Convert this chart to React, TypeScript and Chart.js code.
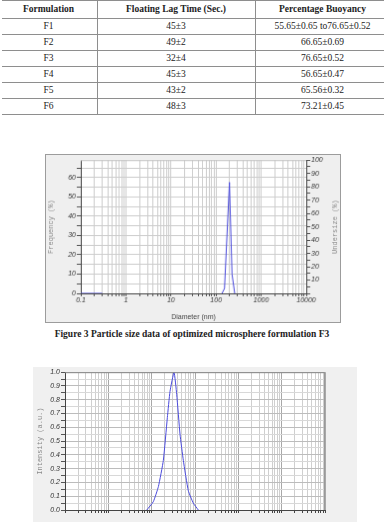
import React, { useEffect, useRef } from "react";
import { Chart, registerables } from "chart.js";

Chart.register(...registerables);

// ---------- Table data ----------
const tableHeaders = ["Formulation", "Floating Lag Time (Sec.)", "Percentage Buoyancy"];
const formulations = ["F1", "F2", "F3", "F4", "F5", "F6"];
const lagTimes = ["45±3", "49±2", "32±4", "45±3", "43±2", "48±3"];
const buoyancy = [
  "55.65±0.65 to76.65±0.52",
  "66.65±0.69",
  "76.65±0.52",
  "56.65±0.47",
  "65.56±0.32",
  "73.21±0.45",
];

// ---------- Figure 3: particle size ----------
const diameterNm = [0.1, 0.3, 1, 136, 154, 198, 226, 259];
const frequencyPct = [0, 0, null, 0, 2.6, 57.5, 10, 0];
const diameterTickDecades = [0.1, 1, 10, 100, 1000, 10000];
const caption = "Figure 3 Particle size data of optimized microsphere formulation F3";

// ---------- Second figure: intensity ----------
const intensitySize = [77, 109, 143, 186, 230, 265, 328, 378, 451, 538, 701, 914, 1194];
const intensityValue = [0, 0.06, 0.17, 0.36, 0.67, 0.86, 1.0, 0.84, 0.55, 0.36, 0.14, 0.05, 0];

const logTicks = (min: number, max: number) => {
  const out: number[] = [];
  for (let e = Math.round(Math.log10(min)); e < Math.round(Math.log10(max)); e++) {
    for (let m = 1; m <= 9; m++) out.push(+(m * Math.pow(10, e)).toPrecision(6));
  }
  out.push(max);
  return out;
};
const isPow10 = (v: number) => Math.abs(Math.log10(v) - Math.round(Math.log10(v))) < 1e-6;

const decorPlugin = {
  id: "decor",
  beforeDraw(chart: any) {
    const { ctx, chartArea: a } = chart;
    ctx.save();
    ctx.fillStyle = "#ffffff";
    ctx.fillRect(a.left, a.top, a.right - a.left, a.bottom - a.top);
    ctx.restore();
  },
  afterDraw(chart: any, _args: any, opts: any) {
    const { ctx, chartArea: a } = chart;
    ctx.save();
    if (opts.topLine) {
      ctx.strokeStyle = opts.topLine;
      ctx.lineWidth = 1;
      ctx.beginPath();
      ctx.moveTo(a.left, a.top + 0.5);
      ctx.lineTo(a.right, a.top + 0.5);
      ctx.stroke();
    }
    if (opts.rightLine) {
      ctx.strokeStyle = opts.rightLine;
      ctx.lineWidth = 1;
      ctx.beginPath();
      ctx.moveTo(a.right - 0.5, a.top);
      ctx.lineTo(a.right - 0.5, a.bottom);
      ctx.stroke();
    }
    const cy = (a.top + a.bottom) / 2;
    (opts.vTitles || []).forEach((t: any) => {
      ctx.save();
      ctx.font = t.font;
      ctx.fillStyle = t.color;
      ctx.textAlign = "center";
      ctx.textBaseline = "middle";
      const x = t.side === "left" ? a.left + t.offset : a.right + t.offset;
      ctx.translate(x, cy);
      ctx.rotate(-Math.PI / 2);
      ctx.fillText(t.text, 0, 0);
      ctx.restore();
    });
    if (opts.xTitle) {
      ctx.font = opts.xTitle.font;
      ctx.fillStyle = opts.xTitle.color;
      ctx.textAlign = "center";
      ctx.textBaseline = "middle";
      ctx.fillText(opts.xTitle.text, (a.left + a.right) / 2, a.bottom + opts.xTitle.offset);
    }
    ctx.restore();
  },
};

const tickFont = { family: "'Liberation Sans', Arial, sans-serif", size: 7, style: "italic" as const };

function SizeChart() {
  const ref = useRef<HTMLCanvasElement>(null);
  useEffect(() => {
    if (!ref.current) return;
    const chart = new Chart(ref.current, {
      type: "line",
      data: {
        datasets: [
          {
            data: diameterNm.map((d, i) => ({ x: d, y: frequencyPct[i] as any })),
            borderColor: "#4b4bdc",
            borderWidth: 1,
            pointRadius: 0,
            spanGaps: false,
            tension: 0,
            yAxisID: "y",
          },
        ],
      },
      plugins: [decorPlugin as any],
      options: {
        animation: false,
        responsive: false,
        devicePixelRatio: 1,
        layout: { padding: { top: 5, left: 0, right: 0, bottom: 0 } },
        plugins: {
          legend: { display: false },
          tooltip: { enabled: false },
          decor: {
            topLine: "#c4c4c4",
            vTitles: [
              { side: "left", offset: -30, text: "Frequency (%)", font: "7px 'Liberation Mono', monospace", color: "#8a8a8a" },
              { side: "right", offset: 29, text: "Undersize (%)", font: "7px 'Liberation Mono', monospace", color: "#8a8a8a" },
            ],
            xTitle: { text: "Diameter (nm)", offset: 24, font: "7px 'Liberation Sans', Arial, sans-serif", color: "#444" },
          },
        } as any,
        scales: {
          x: {
            type: "logarithmic",
            min: 0.1,
            max: 10000,
            afterBuildTicks: (s: any) => {
              s.ticks = logTicks(0.1, 10000).map((v) => ({ value: v }));
            },
            afterFit: (s: any) => {
              s.height = 29;
            },
            ticks: {
              autoSkip: false,
              maxRotation: 0,
              padding: 0,
              font: tickFont,
              color: "#333",
              callback: (v: any) => (diameterTickDecades.includes(+v) ? String(+v) : ""),
            },
            grid: { color: "#cdcdcd", tickLength: 3, tickColor: "#555" },
            border: { color: "#444" },
          },
          y: {
            type: "linear",
            position: "left",
            min: 0,
            max: 69,
            afterBuildTicks: (s: any) => {
              const t = [];
              for (let v = 0; v <= 65; v += 5) t.push({ value: v });
              s.ticks = t;
            },
            afterFit: (s: any) => {
              s.width = 35;
            },
            ticks: {
              autoSkip: false,
              padding: 1,
              font: tickFont,
              color: "#333",
              callback: (v: any) => (+v % 10 === 0 ? String(v) : ""),
            },
            grid: { color: "#cdcdcd", tickLength: 4, tickColor: "#555" },
            border: { color: "#444" },
          },
          y2: {
            type: "linear",
            position: "right",
            min: 0,
            max: 100,
            afterBuildTicks: (s: any) => {
              const t = [];
              for (let v = 0; v <= 100; v += 5) t.push({ value: v });
              s.ticks = t;
            },
            afterFit: (s: any) => {
              s.width = 34;
            },
            ticks: {
              autoSkip: false,
              padding: 1,
              font: tickFont,
              color: "#333",
              callback: (v: any) => (+v % 10 === 0 && +v !== 0 ? String(v) : ""),
            },
            grid: { drawOnChartArea: false, tickLength: 4, tickColor: "#555" },
            border: { color: "#444" },
          },
        },
      },
    } as any);
    return () => chart.destroy();
  }, []);
  return (
    <canvas
      ref={ref}
      width={296}
      height={169}
      style={{
        position: "absolute",
        left: 45,
        top: 154,
        width: 296,
        height: 169,
        background: "#efefef",
        border: "1px solid #9c9c9c",
      }}
    />
  );
}

function IntensityChart() {
  const ref = useRef<HTMLCanvasElement>(null);
  useEffect(() => {
    if (!ref.current) return;
    const chart = new Chart(ref.current, {
      type: "line",
      data: {
        datasets: [
          {
            data: intensitySize.map((d, i) => ({ x: d, y: intensityValue[i] })),
            borderColor: "#4b4bdc",
            borderWidth: 1,
            pointRadius: 0,
            tension: 0.15,
          },
        ],
      },
      plugins: [decorPlugin as any],
      options: {
        animation: false,
        responsive: false,
        devicePixelRatio: 1,
        layout: { padding: { top: 4, left: 0, right: 32, bottom: 0 } },
        plugins: {
          legend: { display: false },
          tooltip: { enabled: false },
          decor: {
            topLine: "#888",
            rightLine: "#999",
            vTitles: [
              { side: "left", offset: -25, text: "Intensity (a.u.)", font: "7px 'Liberation Mono', monospace", color: "#8a8a8a" },
            ],
          },
        } as any,
        scales: {
          x: {
            type: "logarithmic",
            min: 1,
            max: 1000000,
            afterBuildTicks: (s: any) => {
              s.ticks = logTicks(1, 1000000).map((v) => ({ value: v }));
            },
            afterFit: (s: any) => {
              s.height = 27;
            },
            ticks: { autoSkip: false, maxRotation: 0, font: tickFont, callback: () => "" },
            grid: {
              color: (c: any) => (c.tick && isPow10(c.tick.value) ? "#a8a8a8" : "#cfcfcf"),
              tickLength: 3,
              tickColor: "#444",
            },
            border: { color: "#444" },
          },
          y: {
            type: "linear",
            min: 0,
            max: 1,
            afterBuildTicks: (s: any) => {
              const t = [];
              for (let i = 0; i <= 20; i++) t.push({ value: i / 20 });
              s.ticks = t;
            },
            afterFit: (s: any) => {
              s.width = 32;
            },
            ticks: {
              autoSkip: false,
              padding: 1,
              font: tickFont,
              color: "#333",
              callback: (v: any) => {
                const i = Math.round(+v * 20);
                return i % 2 === 0 ? (i / 20).toFixed(1) : "";
              },
            },
            grid: {
              color: (c: any) => (c.tick && Math.round(c.tick.value * 20) % 2 === 0 ? "#bcbcbc" : "#d8d8d8"),
              tickLength: 4,
              tickColor: "#555",
            },
            border: { color: "#444" },
          },
        },
      },
    } as any);
    return () => chart.destroy();
  }, []);
  return (
    <canvas
      ref={ref}
      width={324}
      height={170}
      style={{ position: "absolute", left: 33, top: 367, width: 324, height: 170, background: "#f0f0f0" }}
    />
  );
}

const serif = "'Liberation Serif', 'DejaVu Serif', serif";
const colEdges = [0, 97, 255, 390];
const headerH = 18;
const rowH = 16;

function DataTable() {
  const cell = (text: string, col: number, top: number, h: number, bold = false, key = "") => (
    <div
      key={key}
      style={{
        position: "absolute",
        left: colEdges[col],
        width: colEdges[col + 1] - colEdges[col],
        top,
        height: h,
        lineHeight: h + "px",
        textAlign: "center",
        fontFamily: serif,
        fontSize: 9.5,
        fontWeight: bold ? 700 : 400,
        color: "#222",
        whiteSpace: "nowrap",
      }}
    >
      {text}
    </div>
  );
  const lines = [];
  const n = formulations.length;
  for (let i = 0; i <= n + 1; i++) {
    const y = i === 0 ? 0 : headerH + (i - 1) * rowH;
    lines.push(
      <div key={"h" + i} style={{ position: "absolute", left: 2, width: 382, top: y, height: 1, background: "#8e8e8e" }} />
    );
  }
  [1, 2].forEach((c) =>
    lines.push(
      <div
        key={"v" + c}
        style={{ position: "absolute", left: colEdges[c], top: 0, width: 1, height: headerH + n * rowH, background: "#8e8e8e" }}
      />
    )
  );
  return (
    <div style={{ position: "absolute", left: 0, top: 0, width: 384, height: headerH + n * rowH + 2 }}>
      {lines}
      {tableHeaders.map((h, c) => cell(h, c, 0, headerH, true, "hd" + c))}
      {formulations.map((f, r) => [
        cell(f, 0, headerH + r * rowH, rowH, false, "a" + r),
        cell(lagTimes[r], 1, headerH + r * rowH, rowH, false, "b" + r),
        cell(buoyancy[r], 2, headerH + r * rowH, rowH, false, "c" + r),
      ])}
    </div>
  );
}

export default function App() {
  return (
    <div
      style={{
        position: "absolute",
        left: 0,
        top: 0,
        width: 384,
        height: 522,
        overflow: "hidden",
        background: "#ffffff",
      }}
    >
      <DataTable />
      <SizeChart />
      <div
        style={{
          position: "absolute",
          left: 0,
          width: 384,
          top: 329,
          textAlign: "center",
          fontFamily: serif,
          fontWeight: 700,
          fontSize: 9.5,
          color: "#222",
          whiteSpace: "nowrap",
        }}
      >
        {caption}
      </div>
      <IntensityChart />
    </div>
  );
}
